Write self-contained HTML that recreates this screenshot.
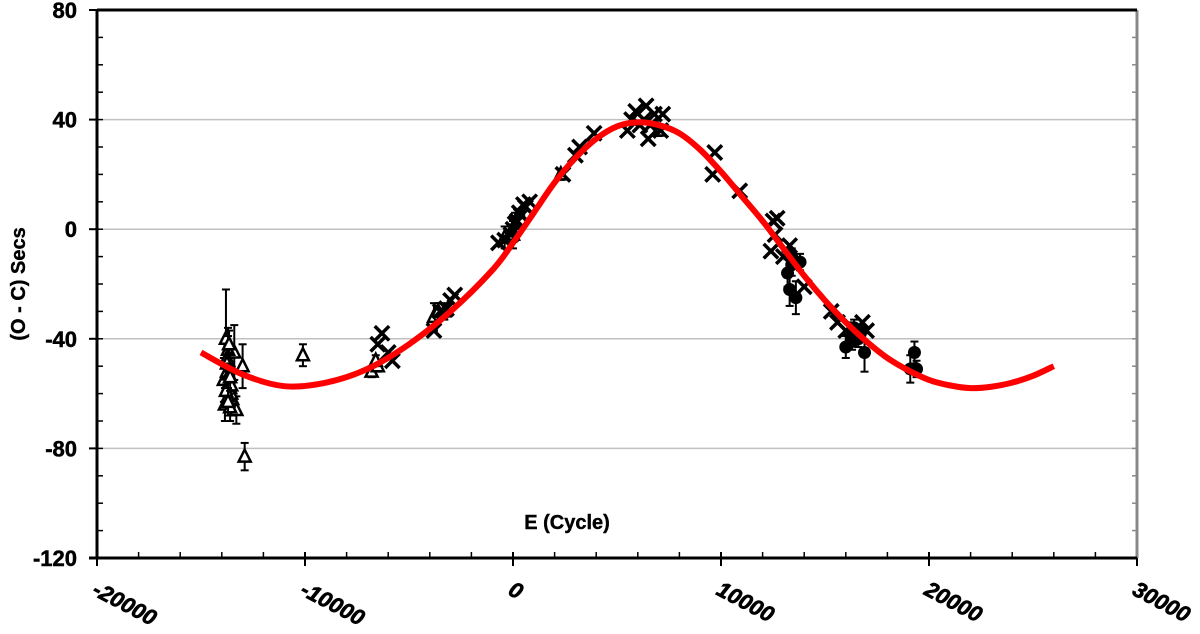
<!DOCTYPE html>
<html><head><meta charset="utf-8"><style>
body{margin:0;background:#fff;}
svg{display:block;font-family:"Liberation Sans",Arial,sans-serif;}
</style></head><body>
<svg id="chart" width="1200" height="634" viewBox="0 0 1200 634">
<g id="grid"></g>
<g id="axes"></g>
<g id="marks"></g>
<g id="curve"></g>
<text x="567" y="529" font-size="20" font-weight="bold" text-anchor="middle" stroke="#000" stroke-width="0.4">E (Cycle)</text>
<text transform="translate(25,284) rotate(-90)" font-size="20" font-weight="bold" text-anchor="middle" stroke="#000" stroke-width="0.4">(O - C) Secs</text>
</svg>
<script>
const xTicks=[-20000,-10000,0,10000,20000,30000];
const yTicks=[80,40,0,-40,-80,-120];
const crossE=[-6500,-6300,-6000,-5800,-3800,-3500,-3200,-3000,-2800,-700,-400,0,200,400,600,800,2400,3000,3200,3900,5500,5700,5900,6300,6400,6500,6800,7100,7200,9700,9600,10900,12500,12700,12400,12600,13000,13300,14000,15300,15600,16000,16800,17000,-100,100,300,500,6100,6600];
const crossY=[-42,-38,-45,-48,-37,-30,-29,-26,-24,-5,-4,0,3,5,8,10,20,27,30,35,36,40,43,40,45,33,42,36,42,28,20,14,3,4,-8,-2,-10,-6,-21,-30,-34,-37,-34,-37,-2,2,6,9,38,38];
const triE=[-13900,-13800,-13700,-13600,-13500,-13400,-13300,-13000,-12900,-13750,-13650,-13550,-13850,-13700,-13600,-13750,-13650,-13550,-13700,-13600,-13800,-13650,-13750,-13600,-13700,-10100,-6800,-6500,-6600,-3800,-3600,-3300,-400,0,100,2300,7000];
const triY=[-55,-40,-48,-58,-62,-45,-66,-50,-83,-52,-56,-60,-64,-44,-50,-47,-53,-57,-61,-65,-59,-42,-49,-54,-63,-46,-52,-50,-48,-32,-30,-30,-3,-2,2,20,36];
const triErr=[8,18,12,8,6,10,5,8,5,6,7,6,6,5,5,5,5,5,5,5,5,5,5,5,5,4,2,2,2,5,3,3,4,5,4,2,2];
const circE=[13200,13300,13400,13600,13800,16000,16200,16400,16600,16900,19100,19300,19400,13400,16300,16700];
const circY=[-16,-22,-13,-25,-12,-43,-38,-36,-40,-45,-51,-45,-51,-10,-41,-38];
const circErr=[5,6,4,6,3,4,4,3,3,7,5,4,3,3,3,3];
const fitE=[-15000,-13000,-11000,-9000,-7000,-5000,-3000,-1000,0,1000,2000,3000,4000,5000,6000,7000,8000,9000,10000,11000,12000,13000,14000,15000,16000,17000,18000,19000,20000,21000,22000,23000,24000,25000,26000];
const fitY=[-45,-53,-57.3,-56,-51,-42,-30,-15,-5,6,17,26,33,37.5,39,38,35,29,21,12,3,-7,-17,-26,-34,-41,-47,-51.5,-55,-57,-58,-57.5,-56,-53.5,-50];

const NS='http://www.w3.org/2000/svg';
const L=97,R=1137,T=10,B=558;
const xs=e=>L+(e+20000)/50000*(R-L);
const ys=v=>T+(80-v)/200*(B-T);
function mk(tag,attrs,parent){const el=document.createElementNS(NS,tag);for(const k in attrs)el.setAttribute(k,attrs[k]);parent.appendChild(el);return el;}
const grid=document.getElementById('grid'),axes=document.getElementById('axes'),marks=document.getElementById('marks'),curve=document.getElementById('curve');
yTicks.forEach(v=>{
  if(v<80&&v>-120){const g=mk('line',{x1:L,x2:R,y1:ys(v),y2:ys(v),stroke:'#c0c0c0','stroke-width':1.5},grid);
  
  }
  const t=mk('text',{x:L-20,y:ys(v)+8,'font-size':22,'font-weight':'bold','text-anchor':'end',stroke:'#000','stroke-width':0.5},axes);t.textContent=v;
  
  
  mk('line',{x1:L-8,x2:L,y1:ys(v),y2:ys(v),stroke:'#000','stroke-width':2},axes);
});
for(let v=-120;v<=80;v+=10){
  mk('line',{x1:L,x2:L+6,y1:ys(v),y2:ys(v),stroke:'#000','stroke-width':1.5},axes);
  mk('line',{x1:R-5,x2:R,y1:ys(v),y2:ys(v),stroke:'#888','stroke-width':1.5},axes);
}
for(let e=-20000;e<=30000;e+=2000){mk('line',{x1:xs(e),x2:xs(e),y1:B-6,y2:B,stroke:'#000','stroke-width':1.5},axes);}
xTicks.forEach(e=>{
  mk('line',{x1:xs(e),x2:xs(e),y1:B-6,y2:B+8,stroke:'#000','stroke-width':2},axes);
  const t=mk('text',{transform:`translate(${xs(e)-6},${B+36}) rotate(28)`,'font-size':22,'font-weight':'bold','font-style':'italic','text-anchor':'start',stroke:'#000','stroke-width':0.7},axes);t.textContent=e;
  
  
});
mk('line',{x1:R,x2:R,y1:T,y2:B,stroke:'#888','stroke-width':3},axes);
mk('line',{x1:L,x2:R,y1:T,y2:T,stroke:'#000','stroke-width':3},axes);
mk('line',{x1:L,x2:L,y1:T,y2:B+1,stroke:'#000','stroke-width':3},axes);
mk('line',{x1:L-8,x2:R,y1:B,y2:B,stroke:'#000','stroke-width':3},axes);

function errbar(x,y1,y2){
  mk('line',{x1:x,x2:x,y1:y1,y2:y2,stroke:'#000','stroke-width':2},marks);
  mk('line',{x1:x-4,x2:x+4,y1:y1,y2:y1,stroke:'#000','stroke-width':2},marks);
  mk('line',{x1:x-4,x2:x+4,y1:y2,y2:y2,stroke:'#000','stroke-width':2},marks);
}
triE.forEach((e,i)=>{
  const x=xs(e),y=ys(triY[i]);
  errbar(x,ys(triY[i]+triErr[i]),ys(triY[i]-triErr[i]));
  const p=mk('polygon',{points:`${x},${y-7} ${x-6},${y+5} ${x+6},${y+5}`,fill:'#fff',stroke:'#000','stroke-width':2.5},marks);
  
  
});
circE.forEach((e,i)=>{
  const x=xs(e),y=ys(circY[i]);
  errbar(x,ys(circY[i]+circErr[i]),ys(circY[i]-circErr[i]));
  const c=mk('circle',{cx:x,cy:y,r:6.5,fill:'#000'},marks);
  
  
});
crossE.forEach((e,i)=>{
  const x=xs(e),y=ys(crossY[i]);
  const p=mk('path',{d:`M${x-6},${y-6}L${x+6},${y+6}M${x+6},${y-6}L${x-6},${y+6}`,stroke:'#000','stroke-width':3.5,fill:'none','stroke-linecap':'square'},marks);
  
  
});
const P=fitE.map((e,i)=>[xs(e),ys(fitY[i])]);
let d=`M${P[0][0]},${P[0][1]}`;
for(let i=0;i<P.length-1;i++){
  const p0=P[Math.max(0,i-1)],p1=P[i],p2=P[i+1],p3=P[Math.min(P.length-1,i+2)];
  const c1=[p1[0]+(p2[0]-p0[0])/6,p1[1]+(p2[1]-p0[1])/6];
  const c2=[p2[0]-(p3[0]-p1[0])/6,p2[1]-(p3[1]-p1[1])/6];
  d+=`C${c1[0]},${c1[1]} ${c2[0]},${c2[1]} ${p2[0]},${p2[1]}`;
}
const pl=mk('path',{d:d,fill:'none',stroke:'#ff0000','stroke-width':6,'stroke-linejoin':'round'},curve);


</script>
</body></html>
